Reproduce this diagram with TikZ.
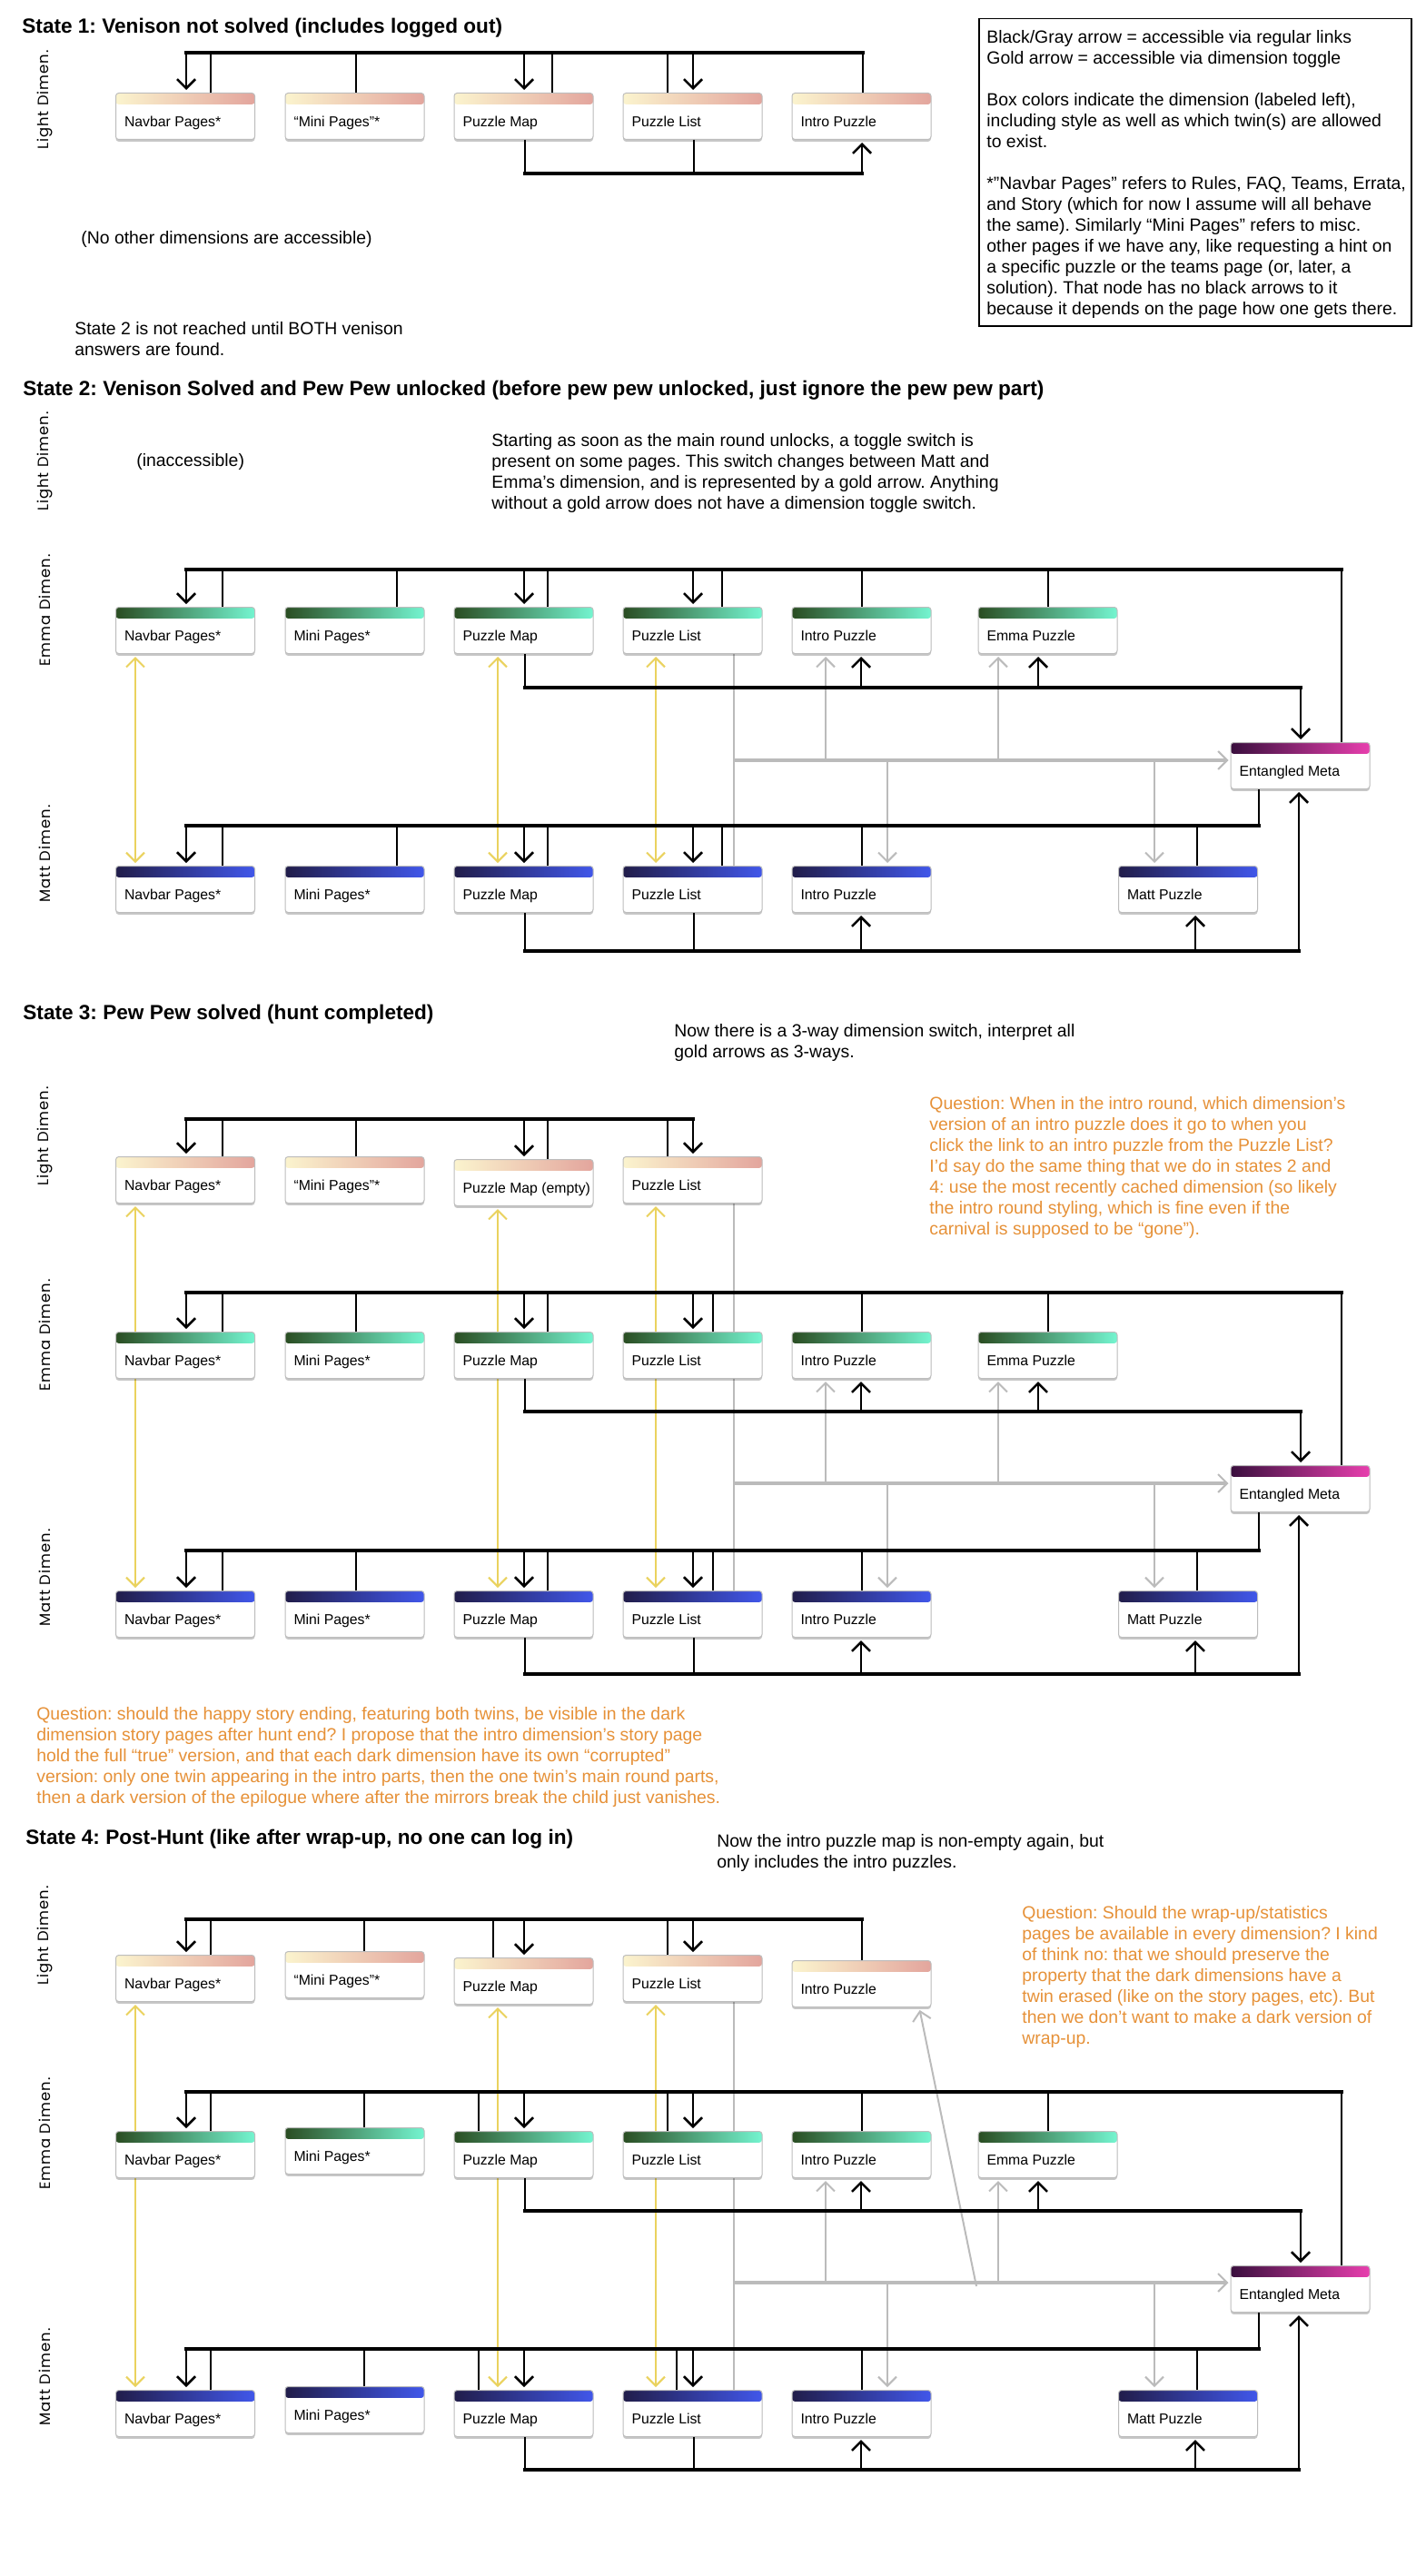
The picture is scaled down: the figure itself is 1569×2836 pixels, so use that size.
\documentclass[tikz,border=0pt]{standalone}
\usepackage{fontspec}
\setmainfont{Liberation Sans}
\newfontfamily\dimfont[LetterSpace=6]{Poppins}
\usetikzlibrary{arrows.meta,shadows}
\definecolor{lightL}{HTML}{FBF4CE}
\definecolor{lightR}{HTML}{E3A59D}
\definecolor{emmaL}{HTML}{2A4D22}
\definecolor{emmaR}{HTML}{74F5D0}
\definecolor{mattL}{HTML}{211D4A}
\definecolor{mattR}{HTML}{4157EA}
\definecolor{metaL}{HTML}{3A0F3E}
\definecolor{metaR}{HTML}{E83FAE}
\definecolor{winborder}{HTML}{BDBDBD}
\definecolor{goldc}{HTML}{EAD25E}
\definecolor{grayc}{HTML}{BBBBBB}
\definecolor{orangec}{HTML}{E69138}
\pgfdeclarelayer{back}
\pgfdeclarelayer{bg}
\pgfsetlayers{back,bg,main}
\frenchspacing
\newcommand\boxfont{\fontsize{7.9}{9}\selectfont}
\newcommand\txtfont{\fontsize{9.7}{11.5}\selectfont}
\newcommand\ttlfont{\fontsize{11.3}{13}\selectfont\bfseries}
\newcommand\dimlabfont{\dimfont\fontsize{8.2}{10}\selectfont}
\tikzset{
  win/.style 2 args={draw=winborder, line width=0.5pt, fill=white, rounded corners=1.6pt,
    minimum width=76.5pt, minimum height=25.5pt, inner sep=0pt, anchor=north,
    font=\boxfont, text height=13pt, text depth=1.5pt,
    drop shadow={shadow xshift=0pt, shadow yshift=-1.2pt, opacity=0.22, fill=black},
    path picture={
      \shade[left color=#1, right color=#2] (path picture bounding box.north west) rectangle ([yshift=-6.2pt]path picture bounding box.north east);
      \begin{scope}[shift={(path picture bounding box.north east)}, x=1pt, y=1pt, sharp corners, line width=0.5pt]
        \draw[draw=white] (-15,-4.2) -- (-11.5,-4.2);
        \draw[draw=white] (-9.6,-2) rectangle (-6.2,-4.6);
        \draw[draw=white] (-4,-2.3) -- (-2,-4.3) (-4,-4.3) -- (-2,-2.3);
      \end{scope}}},
  lightwin/.style={win={lightL}{lightR}},
  emmawin/.style={win={emmaL}{emmaR}},
  mattwin/.style={win={mattL}{mattR}},
  metawin/.style={win={metaL}{metaR}},
  ln/.style={line width=1.3pt},
  bus/.style={line width=1.9pt, line cap=rect},
  ar/.style={line width=1.3pt, -{Straight Barb[length=5pt,width=10pt]}, shorten >=1.5pt},
  goldar/.style={line width=1pt, draw=goldc, {Straight Barb[length=5pt,width=10pt]}-{Straight Barb[length=5pt,width=10pt]}, shorten >=1.5pt, shorten <=1.5pt},
  grayln/.style={line width=1pt, draw=grayc},
  graybus/.style={line width=1.9pt, draw=grayc, -{Straight Barb[length=5pt,width=10pt,line width=1pt]}, shorten >=1pt},
  grayar/.style={line width=1pt, draw=grayc, -{Straight Barb[length=5pt,width=10pt]}, shorten >=1.5pt},
  ttl/.style={anchor=west, font=\ttlfont, inner sep=0pt},
  txt/.style={anchor=north west, font=\txtfont, align=left, inner sep=0pt},
  qtxt/.style={txt, text=orangec},
  dimlab/.style={rotate=90, font=\dimlabfont, inner sep=0pt},
}
\newcommand\win[5]{\node[#1win] (#2) at (#3,#4) {\makebox[67pt][l]{#5}};}
\newcommand\topLine[3]{\draw[ln] (#1.north -| #3,0) -- (#2 -| #3,0);}
\newcommand\topArrow[3]{\draw[ar] (#2 -| #3,0) -- (#1.north -| #3,0);}
\newcommand\botLine[3]{\draw[ln] (#1.south -| #3,0) -- (#2 -| #3,0);}
\newcommand\botArrow[3]{\draw[ar] (#2 -| #3,0) -- (#1.south -| #3,0);}
\newcommand\hbus[3]{\draw[bus] (#1 -| #2,0) -- (#1 -| #3,0);}
\begin{document}
\begin{tikzpicture}[x=0.5pt,y=-0.5pt]
\begin{pgfonlayer}{back}
\fill[white] (0,0) rectangle (1569,2836);
\end{pgfonlayer}
\useasboundingbox (0,0) rectangle (1569,2836);

% ================= STATE 1 =================
\node[ttl] (t1) at (24,31) {State 1: Venison not solved (includes logged out)};
\node[dimlab] (d1l) at (49,110) {Light Dimen.};
\coordinate (b1t) at (0,58);
\coordinate (b1b) at (0,191);
\win{light}{s1lnav}{204}{102}{Navbar Pages*}
\win{light}{s1lmin}{390.5}{102}{“Mini Pages”*}
\win{light}{s1lmap}{576.5}{102}{Puzzle Map}
\win{light}{s1llst}{762.5}{102}{Puzzle List}
\win{light}{s1lint}{948.5}{102}{Intro Puzzle}
\hbus{b1t}{205}{950}
\topArrow{s1lnav}{b1t}{205} \topLine{s1lnav}{b1t}{232}
\topLine{s1lmin}{b1t}{392}
\topArrow{s1lmap}{b1t}{577} \topLine{s1lmap}{b1t}{608}
\topLine{s1llst}{b1t}{735} \topArrow{s1llst}{b1t}{763}
\topLine{s1lint}{b1t}{950}
\hbus{b1b}{578}{949}
\botLine{s1lmap}{b1b}{578} \botLine{s1llst}{b1b}{764} \botArrow{s1lint}{b1b}{949}
\node[txt] (n1a) at (89,254) {(No other dimensions are accessible)};
\node[txt] (n1b) at (82,354) {State 2 is not reached until BOTH venison\\answers are found.};

% legend
\node[draw, line width=0.75pt, minimum width=238pt, minimum height=169pt, anchor=north west, inner sep=0pt] (legend) at (1077,20) {};
\node[txt] (legendtxt) at (1086,33) {Black/Gray arrow = accessible via regular links\\
Gold arrow = accessible via dimension toggle\\[11.5pt]
Box colors indicate the dimension (labeled left),\\
including style as well as which twin(s) are allowed\\
to exist.\\[11.5pt]
*”Navbar Pages” refers to Rules, FAQ, Teams, Errata,\\
and Story (which for now I assume will all behave\\
the same). Similarly “Mini Pages” refers to misc.\\
other pages if we have any, like requesting a hint on\\
a specific puzzle or the teams page (or, later, a\\
solution). That node has no black arrows to it\\
because it depends on the page how one gets there.};

% ================= STATE 2 =================
\node[ttl] (t2) at (25,430) {State 2: Venison Solved and Pew Pew unlocked (before pew pew unlocked, just ignore the pew pew part)};
\node[dimlab] (d2l) at (49,508) {Light Dimen.};
\node[dimlab] (d2e) at (49,672) {Emma Dimen.};
\node[dimlab] (d2m) at (49,940) {Matt Dimen.};
\node[txt] (n2a) at (150,499) {(inaccessible)};
\node[txt] (n2b) at (541,477) {Starting as soon as the main round unlocks, a toggle switch is\\
present on some pages. This switch changes between Matt and\\
Emma’s dimension, and is represented by a gold arrow. Anything\\
without a gold arrow does not have a dimension toggle switch.};
\coordinate (t2e) at (0,627);
\coordinate (b2e) at (0,757);
\coordinate (g2) at (0,837);
\coordinate (t2m) at (0,909);
\coordinate (b2m) at (0,1047);
\win{emma}{s2enav}{204}{668}{Navbar Pages*}
\win{emma}{s2emin}{390.5}{668}{Mini Pages*}
\win{emma}{s2emap}{576.5}{668}{Puzzle Map}
\win{emma}{s2elst}{762.5}{668}{Puzzle List}
\win{emma}{s2eint}{948.5}{668}{Intro Puzzle}
\win{emma}{s2eemm}{1153.5}{668}{Emma Puzzle}
\win{meta}{s2meta}{1431.5}{817}{Entangled Meta}
\win{matt}{s2mnav}{204}{953}{Navbar Pages*}
\win{matt}{s2mmin}{390.5}{953}{Mini Pages*}
\win{matt}{s2mmap}{576.5}{953}{Puzzle Map}
\win{matt}{s2mlst}{762.5}{953}{Puzzle List}
\win{matt}{s2mint}{948.5}{953}{Intro Puzzle}
\win{matt}{s2mmat}{1308}{953}{Matt Puzzle}
\begin{pgfonlayer}{bg}
\draw[goldar] (s2enav.south -| 149,0) -- (s2mnav.north -| 149,0);
\draw[goldar] (s2emap.south -| 548,0) -- (s2mmap.north -| 548,0);
\draw[goldar] (s2elst.south -| 722,0) -- (s2mlst.north -| 722,0);
\draw[grayln] (s2elst.south -| 808,0) -- (s2mlst.north -| 808,0);
\end{pgfonlayer}
\draw[graybus] (g2 -| 808,0) -- (s2meta.west |- g2);
\draw[grayar] (g2 -| 909,0) -- (s2eint.south -| 909,0);
\draw[grayar] (g2 -| 1099,0) -- (s2eemm.south -| 1099,0);
\draw[grayar] (g2 -| 977,0) -- (s2mint.north -| 977,0);
\draw[grayar] (g2 -| 1271,0) -- (s2mmat.north -| 1271,0);
\hbus{t2e}{205}{1477}
\topArrow{s2enav}{t2e}{205} \topLine{s2enav}{t2e}{245}
\topLine{s2emin}{t2e}{437}
\topArrow{s2emap}{t2e}{577} \topLine{s2emap}{t2e}{603}
\topArrow{s2elst}{t2e}{763} \topLine{s2elst}{t2e}{795}
\topLine{s2eint}{t2e}{949}
\topLine{s2eemm}{t2e}{1154}
\topLine{s2meta}{t2e}{1477}
\hbus{b2e}{578}{1432}
\botLine{s2emap}{b2e}{578}
\botArrow{s2eint}{b2e}{948} \botArrow{s2eemm}{b2e}{1143}
\draw[ar] (b2e -| 1432,0) -- (s2meta.north -| 1432,0);
\hbus{t2m}{205}{1386}
\topArrow{s2mnav}{t2m}{205} \topLine{s2mnav}{t2m}{245}
\topLine{s2mmin}{t2m}{437}
\topArrow{s2mmap}{t2m}{577} \topLine{s2mmap}{t2m}{603}
\topArrow{s2mlst}{t2m}{763} \topLine{s2mlst}{t2m}{795}
\topLine{s2mint}{t2m}{949}
\topLine{s2mmat}{t2m}{1318}
\botLine{s2meta}{t2m}{1386}
\hbus{b2m}{578}{1430}
\botLine{s2mmap}{b2m}{578} \botLine{s2mlst}{b2m}{764}
\botArrow{s2mint}{b2m}{948} \botArrow{s2mmat}{b2m}{1316}
\botArrow{s2meta}{b2m}{1430}

% ================= STATE 3 =================
\node[ttl] (t3) at (25,1117) {State 3: Pew Pew solved (hunt completed)};
\node[txt] (n3a) at (742,1127) {Now there is a 3-way dimension switch, interpret all\\gold arrows as 3-ways.};
\node[qtxt] (q3) at (1023,1207) {Question: When in the intro round, which dimension’s\\
version of an intro puzzle does it go to when you\\
click the link to an intro puzzle from the Puzzle List?\\
I’d say do the same thing that we do in states 2 and\\
4: use the most recently cached dimension (so likely\\
the intro round styling, which is fine even if the\\
carnival is supposed to be “gone”).};
\node[dimlab] (d3l) at (49,1251) {Light Dimen.};
\node[dimlab] (d3e) at (49,1470) {Emma Dimen.};
\node[dimlab] (d3m) at (49,1737) {Matt Dimen.};
\coordinate (t3l) at (0,1232);
\coordinate (t3e) at (0,1423);
\coordinate (b3e) at (0,1554);
\coordinate (g3) at (0,1633);
\coordinate (t3m) at (0,1707);
\coordinate (b3m) at (0,1843);
\win{light}{s3lnav}{204}{1273}{Navbar Pages*}
\win{light}{s3lmin}{390.5}{1273}{“Mini Pages”*}
\win{light}{s3lmap}{576.5}{1276}{Puzzle Map (empty)}
\win{light}{s3llst}{762.5}{1273}{Puzzle List}
\win{emma}{s3enav}{204}{1466}{Navbar Pages*}
\win{emma}{s3emin}{390.5}{1466}{Mini Pages*}
\win{emma}{s3emap}{576.5}{1466}{Puzzle Map}
\win{emma}{s3elst}{762.5}{1466}{Puzzle List}
\win{emma}{s3eint}{948.5}{1466}{Intro Puzzle}
\win{emma}{s3eemm}{1153.5}{1466}{Emma Puzzle}
\win{meta}{s3meta}{1431.5}{1613}{Entangled Meta}
\win{matt}{s3mnav}{204}{1751}{Navbar Pages*}
\win{matt}{s3mmin}{390.5}{1751}{Mini Pages*}
\win{matt}{s3mmap}{576.5}{1751}{Puzzle Map}
\win{matt}{s3mlst}{762.5}{1751}{Puzzle List}
\win{matt}{s3mint}{948.5}{1751}{Intro Puzzle}
\win{matt}{s3mmat}{1308}{1751}{Matt Puzzle}
\begin{pgfonlayer}{bg}
\draw[goldar] (s3lnav.south -| 149,0) -- (s3mnav.north -| 149,0);
\draw[goldar] (s3lmap.south -| 548,0) -- (s3mmap.north -| 548,0);
\draw[goldar] (s3llst.south -| 722,0) -- (s3mlst.north -| 722,0);
\draw[grayln] (s3llst.south -| 808,0) -- (s3mlst.north -| 808,0);
\end{pgfonlayer}
\draw[graybus] (g3 -| 808,0) -- (s3meta.west |- g3);
\draw[grayar] (g3 -| 909,0) -- (s3eint.south -| 909,0);
\draw[grayar] (g3 -| 1099,0) -- (s3eemm.south -| 1099,0);
\draw[grayar] (g3 -| 977,0) -- (s3mint.north -| 977,0);
\draw[grayar] (g3 -| 1271,0) -- (s3mmat.north -| 1271,0);
\hbus{t3l}{205}{763}
\topArrow{s3lnav}{t3l}{205} \topLine{s3lnav}{t3l}{245}
\topLine{s3lmin}{t3l}{392}
\topArrow{s3lmap}{t3l}{577} \topLine{s3lmap}{t3l}{603}
\topLine{s3llst}{t3l}{735} \topArrow{s3llst}{t3l}{763}
\hbus{t3e}{205}{1477}
\topArrow{s3enav}{t3e}{205} \topLine{s3enav}{t3e}{245}
\topLine{s3emin}{t3e}{392}
\topArrow{s3emap}{t3e}{577} \topLine{s3emap}{t3e}{603}
\topArrow{s3elst}{t3e}{763} \topLine{s3elst}{t3e}{785}
\topLine{s3eint}{t3e}{949}
\topLine{s3eemm}{t3e}{1154}
\topLine{s3meta}{t3e}{1477}
\hbus{b3e}{578}{1432}
\botLine{s3emap}{b3e}{578}
\botArrow{s3eint}{b3e}{948} \botArrow{s3eemm}{b3e}{1143}
\draw[ar] (b3e -| 1432,0) -- (s3meta.north -| 1432,0);
\hbus{t3m}{205}{1386}
\topArrow{s3mnav}{t3m}{205} \topLine{s3mnav}{t3m}{245}
\topLine{s3mmin}{t3m}{392}
\topArrow{s3mmap}{t3m}{577} \topLine{s3mmap}{t3m}{603}
\topArrow{s3mlst}{t3m}{763} \topLine{s3mlst}{t3m}{785}
\topLine{s3mint}{t3m}{949}
\topLine{s3mmat}{t3m}{1318}
\botLine{s3meta}{t3m}{1386}
\hbus{b3m}{578}{1430}
\botLine{s3mmap}{b3m}{578} \botLine{s3mlst}{b3m}{764}
\botArrow{s3mint}{b3m}{948} \botArrow{s3mmat}{b3m}{1316}
\botArrow{s3meta}{b3m}{1430}

\node[qtxt] (q34) at (40,1879) {Question: should the happy story ending, featuring both twins, be visible in the dark\\
dimension story pages after hunt end? I propose that the intro dimension’s story page\\
hold the full “true” version, and that each dark dimension have its own “corrupted”\\
version: only one twin appearing in the intro parts, then the one twin’s main round parts,\\
then a dark version of the epilogue where after the mirrors break the child just vanishes.};

% ================= STATE 4 =================
\node[ttl] (t4) at (28,2025) {State 4: Post-Hunt (like after wrap-up, no one can log in)};
\node[txt] (n4a) at (789,2019) {Now the intro puzzle map is non-empty again, but\\only includes the intro puzzles.};
\node[qtxt] (q4) at (1125,2098) {Question: Should the wrap-up/statistics\\
pages be available in every dimension? I kind\\
of think no: that we should preserve the\\
property that the dark dimensions have a\\
twin erased (like on the story pages, etc). But\\
then we don’t want to make a dark version of\\
wrap-up.};
\node[dimlab] (d4l) at (49,2131) {Light Dimen.};
\node[dimlab] (d4e) at (49,2349) {Emma Dimen.};
\node[dimlab] (d4m) at (49,2617) {Matt Dimen.};
\coordinate (t4l) at (0,2113);
\coordinate (t4e) at (0,2303);
\coordinate (b4e) at (0,2434);
\coordinate (g4) at (0,2513);
\coordinate (t4m) at (0,2586);
\coordinate (b4m) at (0,2719);
\coordinate (g4d) at (1075,2517);
\win{light}{s4lnav}{204}{2152}{Navbar Pages*}
\win{light}{s4lmin}{390.5}{2148}{“Mini Pages”*}
\win{light}{s4lmap}{576.5}{2155}{Puzzle Map}
\win{light}{s4llst}{762.5}{2152}{Puzzle List}
\win{light}{s4lint}{948.5}{2158}{Intro Puzzle}
\win{emma}{s4enav}{204}{2346}{Navbar Pages*}
\win{emma}{s4emin}{390.5}{2342}{Mini Pages*}
\win{emma}{s4emap}{576.5}{2346}{Puzzle Map}
\win{emma}{s4elst}{762.5}{2346}{Puzzle List}
\win{emma}{s4eint}{948.5}{2346}{Intro Puzzle}
\win{emma}{s4eemm}{1153.5}{2346}{Emma Puzzle}
\win{meta}{s4meta}{1431.5}{2494}{Entangled Meta}
\win{matt}{s4mnav}{204}{2631}{Navbar Pages*}
\win{matt}{s4mmin}{390.5}{2627}{Mini Pages*}
\win{matt}{s4mmap}{576.5}{2631}{Puzzle Map}
\win{matt}{s4mlst}{762.5}{2631}{Puzzle List}
\win{matt}{s4mint}{948.5}{2631}{Intro Puzzle}
\win{matt}{s4mmat}{1308}{2631}{Matt Puzzle}
\begin{pgfonlayer}{bg}
\draw[goldar] (s4lnav.south -| 149,0) -- (s4mnav.north -| 149,0);
\draw[goldar] (s4lmap.south -| 548,0) -- (s4mmap.north -| 548,0);
\draw[goldar] (s4llst.south -| 722,0) -- (s4mlst.north -| 722,0);
\draw[grayln] (s4llst.south -| 808,0) -- (s4mlst.north -| 808,0);
\end{pgfonlayer}
\draw[graybus] (g4 -| 808,0) -- (s4meta.west |- g4);
\draw[grayar] (g4d) -- (s4lint.south -| 1012,0);
\draw[grayar] (g4 -| 909,0) -- (s4eint.south -| 909,0);
\draw[grayar] (g4 -| 1099,0) -- (s4eemm.south -| 1099,0);
\draw[grayar] (g4 -| 977,0) -- (s4mint.north -| 977,0);
\draw[grayar] (g4 -| 1271,0) -- (s4mmat.north -| 1271,0);
\hbus{t4l}{205}{949}
\topArrow{s4lnav}{t4l}{205} \topLine{s4lnav}{t4l}{232}
\topLine{s4lmin}{t4l}{401}
\topLine{s4lmap}{t4l}{543} \topArrow{s4lmap}{t4l}{577}
\topLine{s4llst}{t4l}{735} \topArrow{s4llst}{t4l}{763}
\topLine{s4lint}{t4l}{949}
\hbus{t4e}{205}{1477}
\topArrow{s4enav}{t4e}{205} \topLine{s4enav}{t4e}{232}
\topLine{s4emin}{t4e}{401}
\topLine{s4emap}{t4e}{527} \topArrow{s4emap}{t4e}{577}
\topLine{s4elst}{t4e}{735} \topArrow{s4elst}{t4e}{763}
\topLine{s4eint}{t4e}{949}
\topLine{s4eemm}{t4e}{1154}
\topLine{s4meta}{t4e}{1477}
\hbus{b4e}{578}{1432}
\botLine{s4emap}{b4e}{578}
\botArrow{s4eint}{b4e}{948} \botArrow{s4eemm}{b4e}{1143}
\draw[ar] (b4e -| 1432,0) -- (s4meta.north -| 1432,0);
\hbus{t4m}{205}{1386}
\topArrow{s4mnav}{t4m}{205} \topLine{s4mnav}{t4m}{232}
\topLine{s4mmin}{t4m}{401}
\topLine{s4mmap}{t4m}{527} \topArrow{s4mmap}{t4m}{577}
\topLine{s4mlst}{t4m}{745} \topArrow{s4mlst}{t4m}{763}
\topLine{s4mint}{t4m}{949}
\topLine{s4mmat}{t4m}{1318}
\botLine{s4meta}{t4m}{1386}
\hbus{b4m}{578}{1430}
\botLine{s4mmap}{b4m}{578} \botLine{s4mlst}{b4m}{764}
\botArrow{s4mint}{b4m}{948} \botArrow{s4mmat}{b4m}{1316}
\botArrow{s4meta}{b4m}{1430}
\end{tikzpicture}
\end{document}
